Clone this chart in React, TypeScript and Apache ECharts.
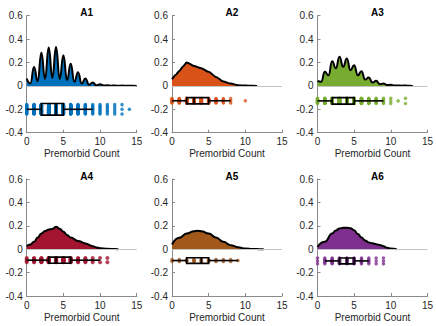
import React, { useEffect, useRef } from "react";
import * as echarts from "echarts";

// ---------- data ----------
const panelTitles = ["A1", "A2", "A3", "A4", "A5", "A6"];
const panelColors = ["#0072BD", "#D95319", "#77AC30", "#A2142F", "#A2581A", "#7E2F8E"];

// density curves (x, y)
const densA1X = [0, 0.5, 1, 1.5, 2, 2.5, 3, 3.5, 4, 4.5, 5, 5.5, 6, 6.5, 7, 7.5, 8, 8.5, 9, 9.5, 10, 10.5, 11, 11.5, 12, 12.5, 13, 13.5, 14, 14.5, 15];
const densA1Y = [0.063, 0.02, 0.162, 0.04, 0.285, 0.06, 0.328, 0.07, 0.333, 0.06, 0.262, 0.05, 0.19, 0.035, 0.117, 0.02, 0.063, 0.01, 0.03, 0.005, 0.014, 0.003, 0.006, 0.002, 0.004, 0.001, 0.003, 0.001, 0.002, 0.0005, 0];

const densA2X = [0, 0.5, 1, 1.5, 2, 3, 4, 5, 6, 7, 8, 9, 10, 11, 11.6];
const densA2Y = [0.057, 0.094, 0.128, 0.165, 0.2, 0.171, 0.151, 0.12, 0.077, 0.037, 0.02, 0.006, 0.003, 0.001, 0];

const densA3X = [0, 0.5, 1, 1.5, 2, 2.5, 3, 3.5, 4, 4.5, 5, 5.5, 6, 6.5, 7, 7.5, 8, 8.5, 9, 9.5, 10, 10.5, 11, 11.5, 12, 12.5, 13];
const densA3Y = [0.043, 0.035, 0.12, 0.09, 0.21, 0.15, 0.249, 0.163, 0.234, 0.134, 0.177, 0.09, 0.126, 0.054, 0.071, 0.029, 0.043, 0.015, 0.02, 0.007, 0.01, 0.003, 0.004, 0.002, 0.003, 0.001, 0];

const densA4X = [0, 0.5, 1, 1.5, 2, 2.5, 3, 3.5, 4, 4.5, 5, 5.5, 6, 7, 8, 9, 9.5, 10, 11, 12, 12.5];
const densA4Y = [0.026, 0.04, 0.063, 0.1, 0.134, 0.155, 0.169, 0.172, 0.191, 0.175, 0.149, 0.122, 0.1, 0.071, 0.049, 0.026, 0.015, 0.009, 0.004, 0.001, 0];

const densA5X = [0, 1, 2, 3, 3.5, 4, 5, 6, 7, 8, 9, 10, 11, 12, 12.5];
const densA5Y = [0.04, 0.097, 0.134, 0.154, 0.157, 0.154, 0.134, 0.1, 0.063, 0.034, 0.017, 0.006, 0.002, 0.0005, 0];

const densA6X = [0, 1, 2, 2.5, 3, 3.5, 4, 4.5, 5, 5.5, 6, 6.5, 7, 7.5, 8, 8.5, 9, 9.5, 10, 10.8];
const densA6Y = [0.02, 0.063, 0.134, 0.16, 0.177, 0.183, 0.183, 0.18, 0.163, 0.13, 0.1, 0.075, 0.057, 0.05, 0.043, 0.036, 0.026, 0.012, 0.006, 0];

// raw observations: value and how many times it occurs
const obsA1Values = [0, 1, 2, 3, 4, 5, 6, 7, 8, 9, 10, 11, 12, 13, 14];
const obsA1Counts = [20, 45, 80, 95, 95, 75, 55, 35, 20, 10, 8, 6, 5, 3, 1];
const obsA2Values = [0, 1, 2, 3, 4, 5, 6, 7, 8, 10];
const obsA2Counts = [8, 15, 25, 22, 20, 15, 10, 5, 3, 1];
const obsA3Values = [0, 1, 2, 3, 4, 5, 6, 7, 8, 9, 10, 11, 12];
const obsA3Counts = [10, 25, 45, 55, 50, 40, 28, 16, 9, 5, 3, 1, 2];
const obsA4Values = [0, 1, 2, 3, 4, 5, 6, 7, 8, 9, 10, 11];
const obsA4Counts = [4, 8, 15, 20, 22, 17, 12, 8, 6, 3, 2, 2];
const obsA5Values = [0, 1, 2, 3, 4, 5, 6, 7, 8, 9];
const obsA5Counts = [2, 3, 4, 5, 5, 4, 3, 2, 2, 1];
const obsA6Values = [0, 1, 2, 3, 4, 5, 6, 7, 8, 9];
const obsA6Counts = [3, 6, 10, 14, 14, 12, 7, 5, 3, 3];

// box stats: [lower whisker, Q1, median, Q3, upper whisker]
const boxA1 = [0, 2, 4, 5, 9];
const boxA2 = [0, 2, 3, 5, 8];
const boxA3 = [0, 2, 4, 5, 9];
const boxA4 = [0, 3, 4, 6, 10];
const boxA5 = [0, 2, 4, 5, 9];
const boxA6 = [1, 3, 4, 5, 7];

const xTicks = [0, 5, 10, 15];
const yTicks = [-0.4, -0.2, 0, 0.2, 0.4, 0.6];

// ---------- layout (not data) ----------
const gridPos = [
  { left: 26.7, top: 15.7 },
  { left: 172, top: 15.7 },
  { left: 317.5, top: 15.7 },
  { left: 26.7, top: 179 },
  { left: 172, top: 179 },
  { left: 317.5, top: 179 },
];
const GW = 110;
const GH = 117;
// rain band: centre, jitter half height, box half height (y units)
const rainLayout = [
  { c: -0.2, j: 0.04, b: 0.05 },
  { c: -0.127, j: 0.02, b: 0.027 },
  { c: -0.128, j: 0.022, b: 0.028 },
  { c: -0.094, j: 0.018, b: 0.026 },
  { c: -0.097, j: 0.008, b: 0.024 },
  { c: -0.1, j: 0.024, b: 0.025 },
];
const dotSizes = [3.5, 3.5, 3.5, 4, 3.5, 3.5];

const densX = [densA1X, densA2X, densA3X, densA4X, densA5X, densA6X];
const densY = [densA1Y, densA2Y, densA3Y, densA4Y, densA5Y, densA6Y];
const obsV = [obsA1Values, obsA2Values, obsA3Values, obsA4Values, obsA5Values, obsA6Values];
const obsC = [obsA1Counts, obsA2Counts, obsA3Counts, obsA4Counts, obsA5Counts, obsA6Counts];
const boxes = [boxA1, boxA2, boxA3, boxA4, boxA5, boxA6];
const smoothness = [0.5, 0.25, 0.5, 0.5, 0.5, 0.5];

const FONT = "'Liberation Sans', Arial, Helvetica, sans-serif";
const AXIS_COLOR = "#8a8a8a";
const TEXT_COLOR = "#262626";

export default function App() {
  const ref = useRef<HTMLDivElement>(null);

  useEffect(() => {
    if (!ref.current) return;
    const chart = echarts.init(ref.current, null, { renderer: "svg" });

    const grid: any[] = [];
    const xAxis: any[] = [];
    const yAxis: any[] = [];
    const title: any[] = [];
    const series: any[] = [];

    for (let i = 0; i < 6; i++) {
      const g = gridPos[i];
      grid.push({ left: g.left, top: g.top, width: GW, height: GH, containLabel: false });
      title.push({
        text: panelTitles[i],
        left: g.left + GW / 2,
        top: g.top - 13,
        textAlign: "center",
        textStyle: { fontFamily: FONT, fontSize: 10, fontWeight: "bold", color: "#000" },
      });
      xAxis.push({
        gridIndex: i,
        type: "value",
        min: xTicks[0],
        max: xTicks[xTicks.length - 1],
        interval: xTicks[1] - xTicks[0],
        name: "Premorbid Count",
        nameLocation: "middle",
        nameGap: 16,
        nameTextStyle: { fontFamily: FONT, fontSize: 10, color: TEXT_COLOR },
        axisLine: { show: true, onZero: false, lineStyle: { color: AXIS_COLOR, width: 1 } },
        axisTick: { show: true, inside: true, length: 3, lineStyle: { color: AXIS_COLOR } },
        axisLabel: { fontFamily: FONT, fontSize: 10, color: TEXT_COLOR, margin: 4 },
        splitLine: { show: false },
      });
      yAxis.push({
        gridIndex: i,
        type: "value",
        min: yTicks[0],
        max: yTicks[yTicks.length - 1],
        interval: 0.2,
        axisLine: { show: true, onZero: false, lineStyle: { color: AXIS_COLOR, width: 1 } },
        axisTick: { show: true, inside: true, length: 3, lineStyle: { color: AXIS_COLOR } },
        axisLabel: {
          fontFamily: FONT,
          fontSize: 10,
          color: TEXT_COLOR,
          margin: 4,
          formatter: (v: number) => String(Math.round(v * 10) / 10),
        },
        splitLine: { show: false },
      });

      const lay = rainLayout[i];
      // raw points, spread evenly within the rain band
      const pts: number[][] = [];
      obsV[i].forEach((v, k) => {
        const n = obsC[i][k];
        for (let j = 0; j < n; j++) {
          const t = n === 1 ? 0 : (2 * j) / (n - 1) - 1;
          pts.push([v, lay.c + t * lay.j]);
        }
      });
      series.push({
        type: "scatter",
        xAxisIndex: i,
        yAxisIndex: i,
        data: pts,
        symbol: "circle",
        symbolSize: dotSizes[i],
        itemStyle: { color: panelColors[i] },
        z: 2,
        silent: true,
        markLine: {
          silent: true,
          symbol: "none",
          label: { show: false },
          lineStyle: { color: "#c4c4c4", width: 1, type: "solid" },
          data: [{ yAxis: 0 }],
        },
      });

      // density cloud
      series.push({
        type: "line",
        xAxisIndex: i,
        yAxisIndex: i,
        data: densX[i].map((x, k) => [x, densY[i][k]]),
        smooth: smoothness[i],
        smoothMonotone: "x",
        symbol: "none",
        lineStyle: { color: "#000", width: 2 },
        areaStyle: { color: panelColors[i], opacity: 1 },
        z: 3,
        silent: true,
      });

      // box + whiskers
      series.push({
        type: "custom",
        xAxisIndex: i,
        yAxisIndex: i,
        data: [boxes[i]],
        z: 4,
        silent: true,
        clip: false,
        renderItem: (params: any, api: any) => {
          const lo = api.value(0);
          const q1 = api.value(1);
          const md = api.value(2);
          const q3 = api.value(3);
          const hi = api.value(4);
          const pLo = api.coord([lo, lay.c]);
          const pQ1 = api.coord([q1, lay.c]);
          const pQ3 = api.coord([q3, lay.c]);
          const pHi = api.coord([hi, lay.c]);
          const pMdTop = api.coord([md, lay.c + lay.b]);
          const pMdBot = api.coord([md, lay.c - lay.b]);
          const top = pMdTop[1];
          const bot = pMdBot[1];
          const st = { stroke: "#000", lineWidth: 1.6, fill: "none" };
          return {
            type: "group",
            children: [
              { type: "line", shape: { x1: pLo[0], y1: pLo[1], x2: pQ1[0], y2: pQ1[1] }, style: st },
              { type: "line", shape: { x1: pQ3[0], y1: pQ3[1], x2: pHi[0], y2: pHi[1] }, style: st },
              { type: "rect", shape: { x: pQ1[0], y: top, width: pQ3[0] - pQ1[0], height: bot - top }, style: st },
              { type: "line", shape: { x1: pMdTop[0], y1: top, x2: pMdBot[0], y2: bot }, style: st },
            ],
          };
        },
      });
    }

    chart.setOption({
      animation: false,
      backgroundColor: "#fff",
      title,
      grid,
      xAxis,
      yAxis,
      series,
    });
    return () => chart.dispose();
  }, []);

  return (
    <div
      ref={ref}
      style={{ position: "absolute", left: 0, top: 0, width: 436, height: 326 }}
    />
  );
}
